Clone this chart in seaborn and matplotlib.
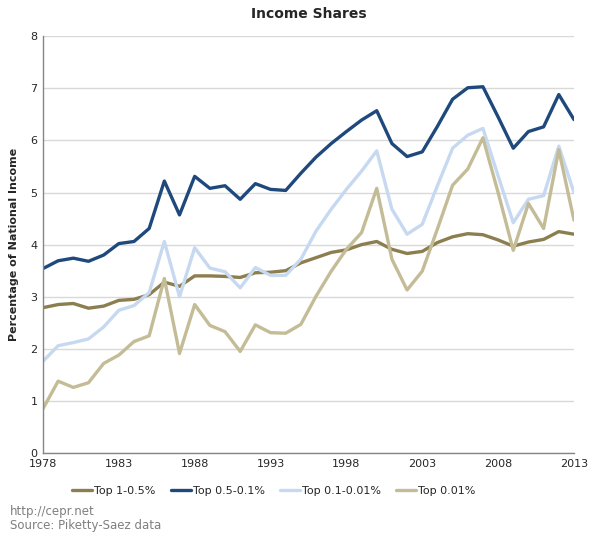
import numpy as np
import pandas as pd
import seaborn as sns
import matplotlib.pyplot as plt

years = list(range(1978, 2014))

top_1_05 = [2.79, 2.85, 2.87, 2.78, 2.82, 2.93, 2.95, 3.04, 3.28, 3.20,
            3.40, 3.40, 3.39, 3.37, 3.46, 3.47, 3.50, 3.65, 3.75, 3.85,
            3.90, 4.00, 4.06, 3.91, 3.83, 3.87, 4.04, 4.15, 4.21, 4.19,
            4.09, 3.97, 4.05, 4.10, 4.25, 4.20]
top_05_01 = [3.54, 3.69, 3.74, 3.68, 3.80, 4.02, 4.06, 4.31, 5.22, 4.57,
             5.31, 5.08, 5.13, 4.87, 5.17, 5.06, 5.04, 5.37, 5.68, 5.94,
             6.17, 6.39, 6.57, 5.94, 5.69, 5.78, 6.27, 6.79, 7.01, 7.03,
             6.45, 5.85, 6.17, 6.26, 6.88, 6.40]
top_01_001 = [1.76, 2.06, 2.12, 2.19, 2.42, 2.74, 2.83, 3.08, 4.06, 3.00,
              3.94, 3.55, 3.48, 3.17, 3.56, 3.41, 3.41, 3.72, 4.26, 4.68,
              5.06, 5.41, 5.80, 4.68, 4.20, 4.39, 5.13, 5.85, 6.10, 6.23,
              5.32, 4.42, 4.87, 4.94, 5.89, 5.00]
top_001 = [0.85, 1.38, 1.26, 1.35, 1.72, 1.88, 2.14, 2.25, 3.35, 1.91,
           2.85, 2.45, 2.33, 1.95, 2.46, 2.31, 2.30, 2.47, 3.01, 3.49,
           3.91, 4.23, 5.08, 3.72, 3.13, 3.49, 4.30, 5.14, 5.45, 6.05,
           5.00, 3.89, 4.79, 4.31, 5.82, 4.47]

series_names = ["Top 1-0.5%", "Top 0.5-0.1%", "Top 0.1-0.01%", "Top 0.01%"]
colors = ["#8C7E4E", "#1F497D", "#C6D9F1", "#C4BC96"]
x_ticks = list(range(1978, 2014, 5))

df = pd.DataFrame({"year": years,
                   series_names[0]: top_1_05,
                   series_names[1]: top_05_01,
                   series_names[2]: top_01_001,
                   series_names[3]: top_001})
long_df = df.melt(id_vars="year", var_name="series", value_name="share")

sns.set_style("white")
plt.rcParams["font.family"] = ["DejaVu Sans"]

fig = plt.figure(figsize=(6.01, 5.40), dpi=100)
ax = fig.add_axes([0.0715, 0.161, 0.8835, 0.772])

sns.lineplot(data=long_df, x="year", y="share", hue="series",
             hue_order=series_names, palette=colors, linewidth=2.4,
             ax=ax, legend=True)

ax.set_xlim(1978, 2013)
ax.set_ylim(0, 8)
ax.set_xticks(x_ticks)
ax.set_xticklabels([str(y) for y in x_ticks], fontsize=8)
ax.set_yticks(range(0, 9))
ax.set_yticklabels([str(v) for v in range(0, 9)], fontsize=8)
ax.tick_params(length=0, pad=4)
ax.yaxis.grid(True, color="#D9D9D9", linewidth=1)
ax.set_axisbelow(True)
for s in ["top", "right"]:
    ax.spines[s].set_visible(False)
for s in ["left", "bottom"]:
    ax.spines[s].set_color("#868686")
    ax.spines[s].set_linewidth(1)

ax.set_xlabel("")
ax.set_ylabel("Percentage of National Income", fontsize=8, fontweight="bold",
              labelpad=8)
ax.set_title("Income Shares", fontsize=10, fontweight="bold", pad=13)

handles, labels = ax.get_legend_handles_labels()
ax.legend(handles, labels, loc="upper center", bbox_to_anchor=(0.435, -0.055),
          ncol=4, frameon=False, fontsize=8, handlelength=1.8,
          handletextpad=0.15, columnspacing=1.4)

fig.text(0.017, 0.047, "http://cepr.net", fontsize=8.5, color="#7F7F7F")
fig.text(0.017, 0.021, "Source: Piketty-Saez data", fontsize=8.5, color="#7F7F7F")

fig.savefig("out.png", dpi=100)
